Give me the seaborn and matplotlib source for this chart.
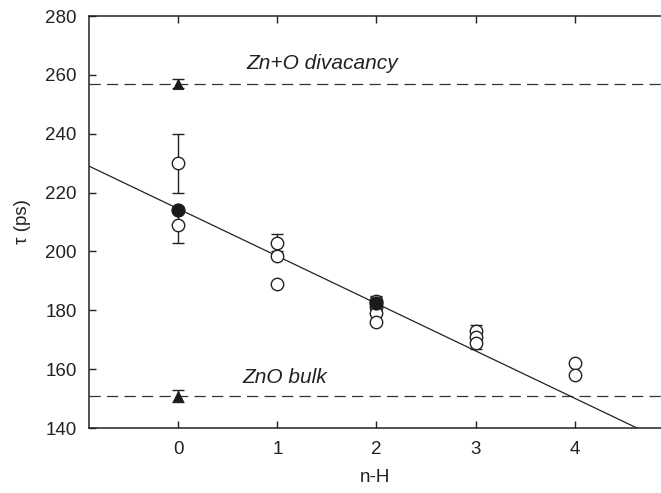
import numpy as np
import pandas as pd
import seaborn as sns
import matplotlib
matplotlib.use("Agg")
from matplotlib import pyplot as plt

sns.set_style("ticks")
plt.rcParams['font.family'] = ['Liberation Sans', 'DejaVu Sans']

# open circles (calculated lifetimes)
open_x = [0, 0, 1, 1, 1, 2, 2, 2, 2, 3, 3, 3, 4, 4]
open_y = [230, 209, 203, 198.5, 189, 183, 181, 179, 176, 173, 171, 169, 162, 158]
open_err = [10, 6, 3, 0, 0, 2, 0, 0, 0, 2, 2, 2, 0, 0]

# filled circles
filled_x = [0, 2]
filled_y = [214, 182.5]
filled_err = [0, 2]

# filled triangles (reference values)
tri_x = [0, 0]
tri_y = [257, 151]
tri_err = [1.5, 2]

# reference levels
divacancy = 257
bulk = 151

# linear fit
fit_intercept = 214.5
fit_slope = -16.1

xlim = (-0.9, 4.87)
ylim = (140, 280)

fig = plt.figure(figsize=(6.61, 4.93), dpi=100)
ax = fig.add_axes([89 / 661, 65 / 493, 1 - 89 / 661, (428 - 16) / 493])

ax.axhline(divacancy, color='#333333', lw=0.9, ls=(0, (9, 5)))
ax.axhline(bulk, color='#333333', lw=0.9, ls=(0, (9, 5)))

xs = np.array(xlim)
ax.plot(xs, fit_intercept + fit_slope * xs, color='#222222', lw=0.9)

ebkw = dict(fmt='none', ecolor='#222222', elinewidth=1.0, capsize=4.5, capthick=1.0)
oe = np.array(open_err)
ax.errorbar(np.array(open_x)[oe > 0], np.array(open_y)[oe > 0], yerr=oe[oe > 0], **ebkw)
ax.errorbar(filled_x[1:], filled_y[1:], yerr=filled_err[1:], **ebkw)
ax.errorbar(tri_x, tri_y, yerr=tri_err, **ebkw)

open_df = pd.DataFrame({'x': open_x, 'y': open_y})
sns.scatterplot(data=open_df, x='x', y='y', marker='o', s=80, facecolor='white',
                edgecolor='#222222', linewidth=1.0, ax=ax, zorder=3)
sns.scatterplot(x=filled_x, y=filled_y, marker='o', s=90, color='#1a1a1a',
                edgecolor='#1a1a1a', ax=ax, zorder=4)
sns.scatterplot(x=tri_x, y=tri_y, marker='^', s=55, color='#1a1a1a',
                edgecolor='#1a1a1a', ax=ax, zorder=4)

ax.text(0.69, 264, 'Zn+O divacancy', fontsize=15, style='italic', color='#222222',
        va='center')
ax.text(0.65, 157, 'ZnO bulk', fontsize=15, style='italic', color='#222222',
        va='center')

ax.set_xlim(*xlim)
ax.set_ylim(*ylim)
ax.set_xticks([0, 1, 2, 3, 4])
ax.set_yticks(np.arange(140, 281, 20))
ax.tick_params(direction='in', top=True, length=5, width=1, labelsize=13.5, pad=9,
               colors='#222222')
ax.set_xlabel('n-H', fontsize=13.5, color='#222222', labelpad=8)
ax.set_ylabel('τ (ps)', fontsize=13.5, color='#222222', labelpad=10)
for s in ['left', 'bottom', 'top']:
    ax.spines[s].set_linewidth(1.1)
    ax.spines[s].set_color('#222222')
ax.spines['right'].set_visible(False)

fig.savefig('out.png', dpi=100)
